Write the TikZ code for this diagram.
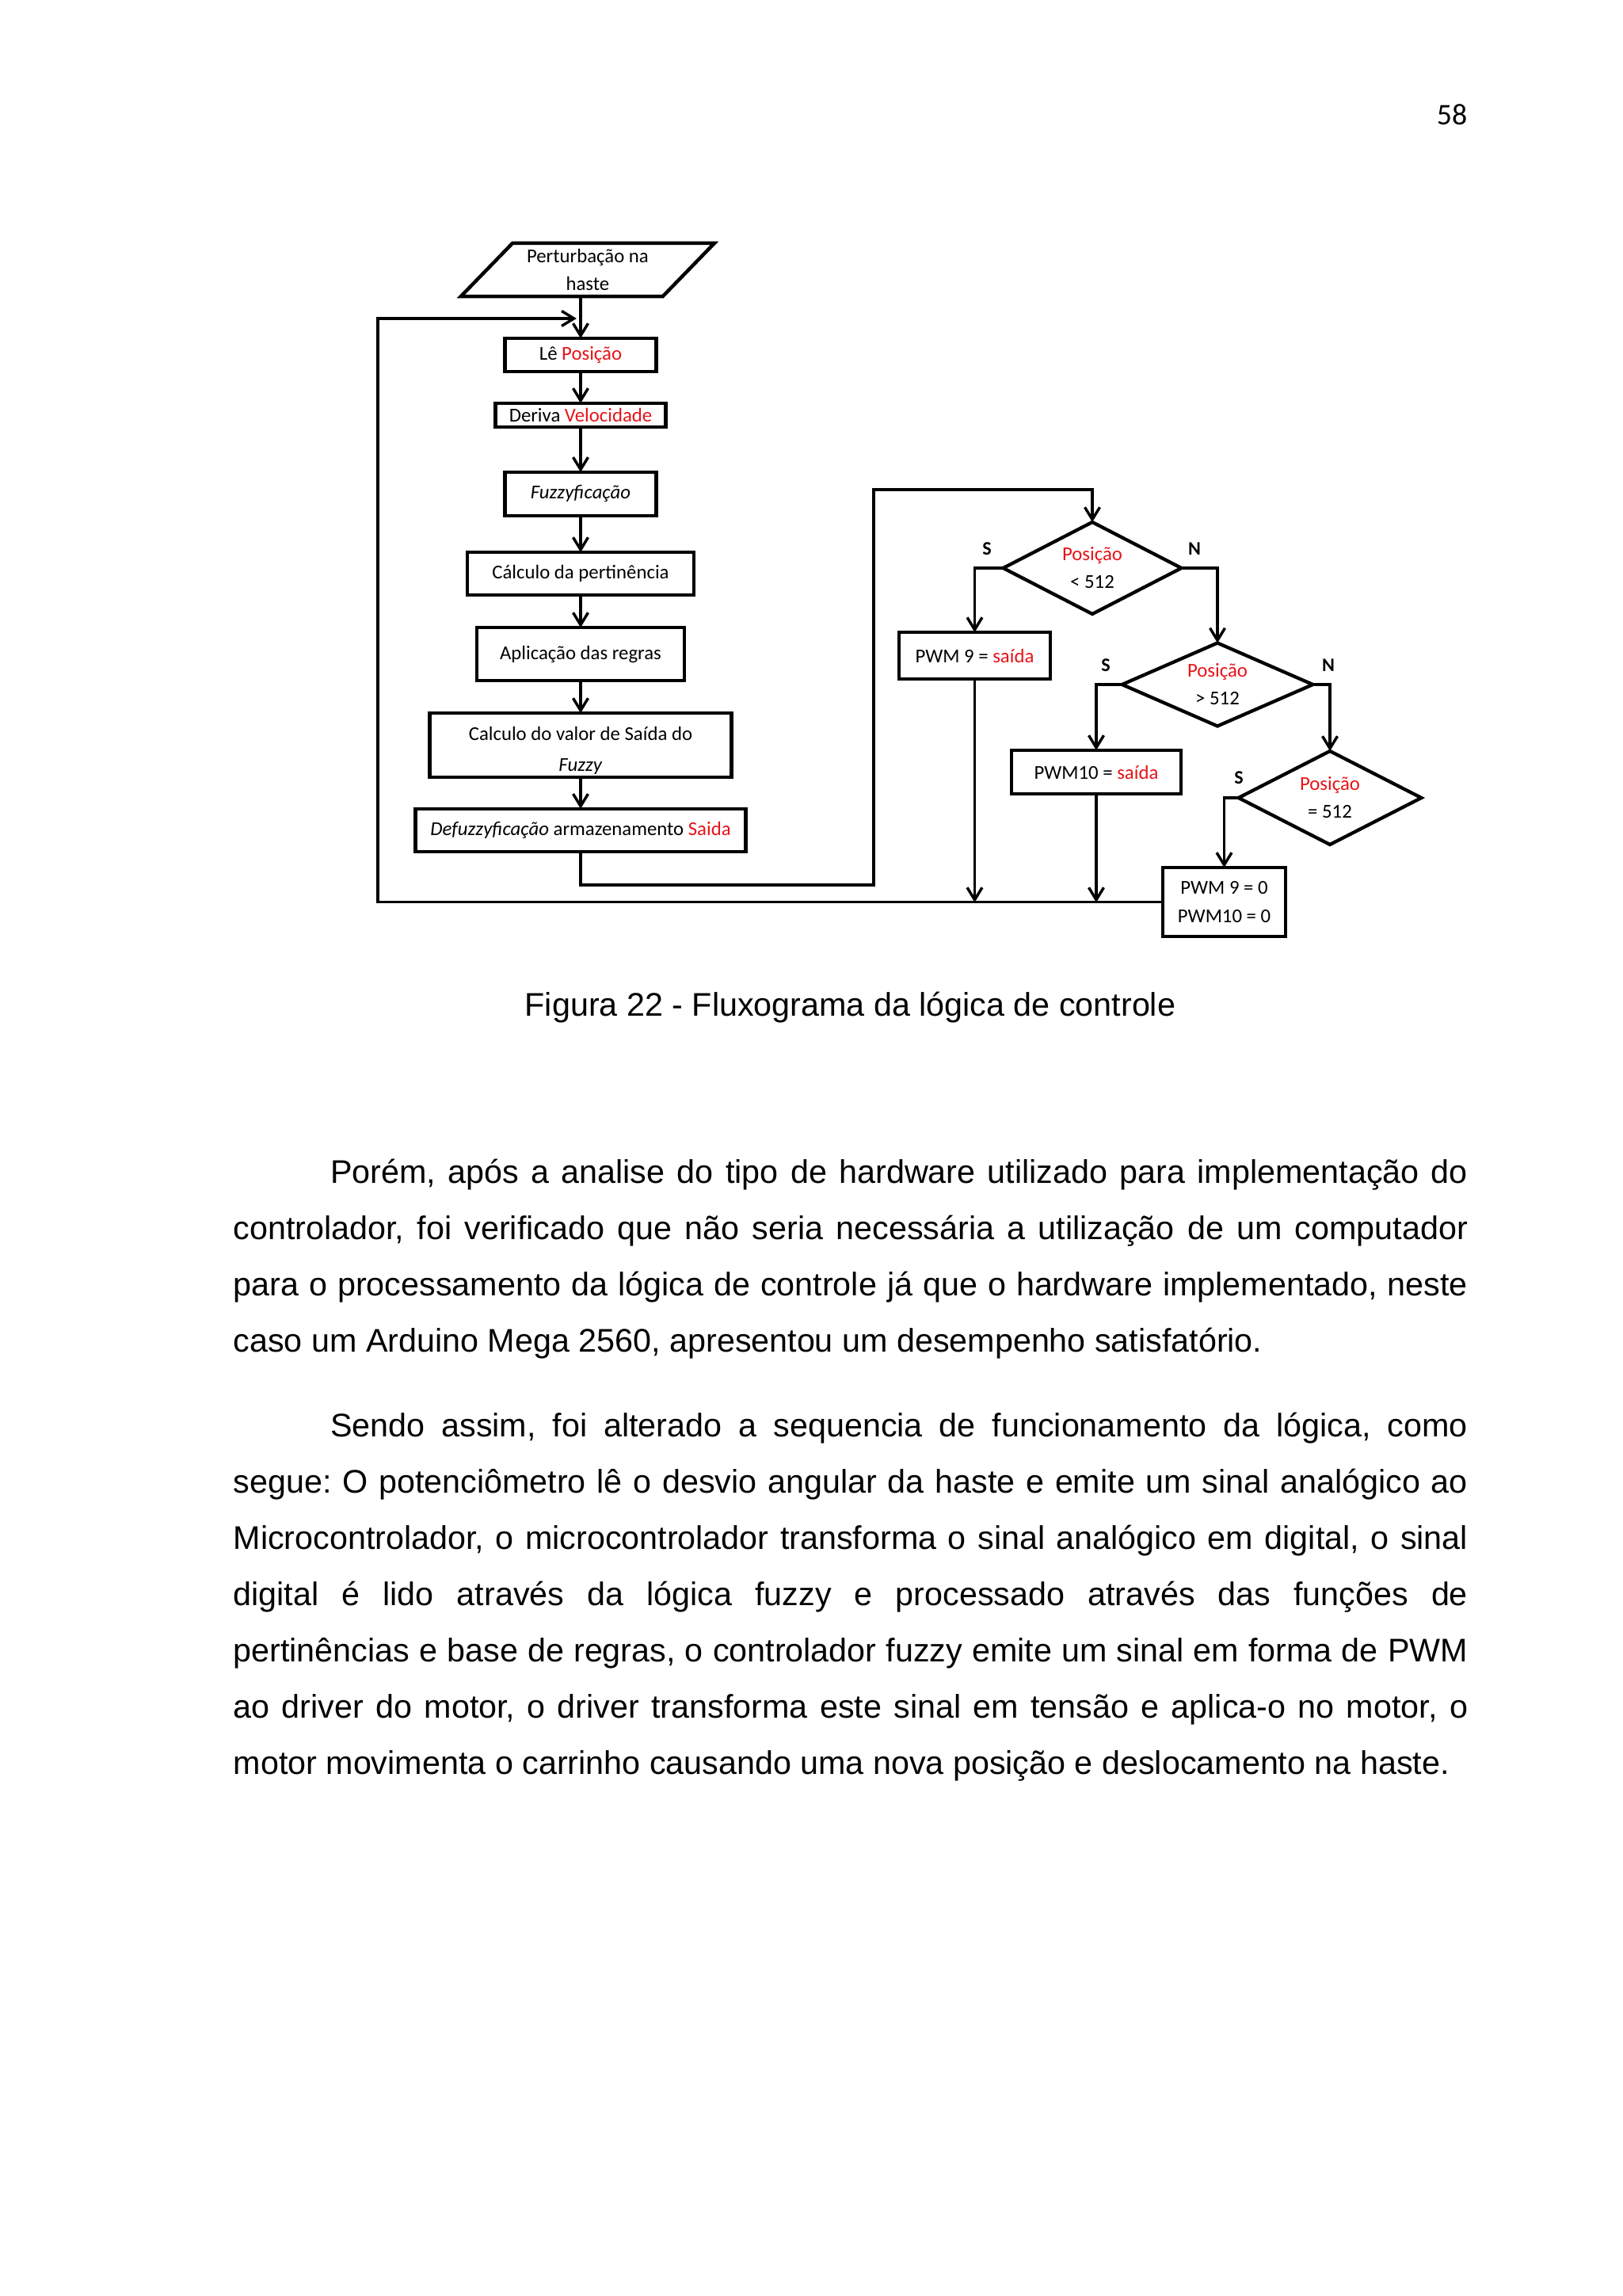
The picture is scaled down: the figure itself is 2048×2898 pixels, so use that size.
\documentclass[tikz,border=0pt]{standalone}
\usepackage{fontspec}
\setmainfont{Liberation Sans}
\newfontfamily\calibri{Carlito}
\usetikzlibrary{arrows.meta,positioning,shapes.geometric}
\definecolor{vermelho}{RGB}{230,20,25}
% paragrafo justificado
\newcommand\paragrafo[1]{\parbox[t]{453pt}{\frenchspacing\hyphenpenalty=10000\relax
  \tolerance=9999\relax\emergencystretch=3em\relax\hspace*{1.25cm}#1}}
\tikzset{
    %Define standard arrow tip
    >={Straight Barb[length=4.5pt,width=5.5pt]},
    %Define style for boxes
    caixa/.style={
           rectangle,
           draw=black, line width=1.3pt,
           inner xsep=1pt, inner ysep=0.5pt,
           outer sep=0pt,
           align=center,
           font=\calibri\fontsize{7.2}{10.2}\selectfont},
    %Define style for decisions
    losango/.style={
           diamond, aspect=2,
           draw=black, line width=1.25pt,
           inner sep=0pt, outer sep=0pt,
           align=center,
           font=\calibri\fontsize{7.2}{10.2}\selectfont},
    %Define style for input
    entrada/.style={
           trapezium, trapezium stretches=true,
           trapezium left angle=46, trapezium right angle=134,
           draw=black, line width=1.3pt,
           inner sep=0.5pt, outer sep=0pt,
           minimum width=93.6pt, minimum height=19.5pt,
           align=center,
           font=\calibri\fontsize{7.2}{10.2}\selectfont},
    % Define arrow style
    seta/.style={
           ->,
           line width=1pt},
    rotulo/.style={
           inner sep=0pt,
           font=\calibri\bfseries\fontsize{7}{8}\selectfont},
    corpo/.style={
           inner sep=0pt, anchor=base west,
           font=\fontsize{12}{20.64}\selectfont}
}

\begin{document}
\begin{tikzpicture}[x=0.29066pt, y=-0.29066pt]
 \useasboundingbox (0,0) rectangle (2048,2898);
 \fill[white] (0,0) rectangle (2048,2898);
 \node[anchor=base east, inner sep=0pt, font=\calibri\fontsize{11}{13}\selectfont] (pagina) at (1853,157) {58};
 % coluna principal
 \node[caixa, minimum width=55.5pt, minimum height=12.2pt] (le) at (733,448) {Lê \textcolor{vermelho}{Posição}};
 \node[entrada, above=15.4pt of le, xshift=2.6pt] (para) {Perturbação na\\haste};
 \node[caixa, below=11.6pt of le, minimum width=62.5pt, minimum height=8.7pt] (deriva) {Deriva \textcolor{vermelho}{Velocidade}};
 \node[caixa, below=16.6pt of deriva, minimum width=55.5pt, minimum height=16pt] (fuzz) {\textit{Fuzzyficação}};
 \node[caixa, below=13.4pt of fuzz, minimum width=83.1pt, minimum height=15.7pt] (pert) {Cálculo da pertinência};
 \node[caixa, below=11.9pt of pert, minimum width=76.2pt, minimum height=19.5pt] (regras) {Aplicação das regras};
 \node[caixa, below=11.9pt of regras, minimum width=110.7pt, minimum height=23.5pt, text height=20.5pt,
       font=\calibri\fontsize{7.2}{11.3}\selectfont] (valor) {Calculo do valor de Saída do\\\textit{Fuzzy}};
 \node[caixa, below=11.6pt of valor, minimum width=121.2pt, minimum height=15.7pt] (defuzz) {\textit{Defuzzyficação} armazenamento \textcolor{vermelho}{Saida}};
 % decisoes
 \node[losango, minimum width=65.4pt, minimum height=33.7pt] (d1) at (1379,717) {\textcolor{vermelho}{Posição}\\< 512};
 \node[losango, minimum width=70pt, minimum height=30.5pt] (d2) at (1537,864) {\textcolor{vermelho}{Posição}\\> 512};
 \node[losango, minimum width=67.1pt, minimum height=34.3pt] (d3) at (1679,1007) {\textcolor{vermelho}{Posição}\\= 512};
 \node[caixa, minimum width=55.5pt, minimum height=17.1pt] (pwm9) at (1230.5,827.5) {PWM 9 = \textcolor{vermelho}{saída}};
 \node[caixa, minimum width=62.2pt, minimum height=16pt] (pwm10) at (1384,974.5) {PWM10 = \textcolor{vermelho}{saída}};
 \node[caixa, minimum width=45.1pt, minimum height=25.3pt] (pwmzero) at (1545.5,1138.5) {PWM 9 = 0\\PWM10 = 0};
 \node[rotulo] (s1) at (1246,693) {S};
 \node[rotulo] (n1) at (1508,693) {N};
 \node[rotulo] (s2) at (1396,840) {S};
 \node[rotulo] (n2) at (1677,840) {N};
 \node[rotulo] (s3) at (1564,982) {S};
 \coordinate (volta) at (1103,1117);
 \coordinate (topo) at (1103,618);
 \coordinate (fundo) at (477,1139);
 \coordinate (retorno) at (477,402);
 % ligacoes
 \draw[seta] (para.south -| le.north) -- (le.north);
 \draw[seta] (le) -- (deriva);
 \draw[seta] (deriva) -- (fuzz);
 \draw[seta] (fuzz) -- (pert);
 \draw[seta] (pert) -- (regras);
 \draw[seta] (regras) -- (valor);
 \draw[seta] (valor) -- (defuzz);
 \draw[seta] (defuzz.south) |- (volta) -- (topo) -| (d1.north);
 \draw[seta] (d1.west) -| (pwm9.north);
 \draw[seta] (d1.east) -| (d2.north);
 \draw[seta] (d2.west) -| (pwm10.north);
 \draw[seta] (d2.east) -| (d3.north);
 \draw[seta] (d3.west) -| (pwmzero.north);
 \draw[seta] (pwm9.south) -- (pwm9.south |- fundo);
 \draw[seta] (pwm10.south) -- (pwm10.south |- fundo);
 \draw[seta, shorten >=1.5pt] (pwmzero.west) -| (retorno) -- (retorno -| le.north);
 % legenda e texto
 \node[anchor=base, inner sep=0pt, font=\fontsize{12}{14}\selectfont] (legenda) at (1073.5,1282) {Figura 22 - Fluxograma da lógica de controle};
 \node[corpo] (par1) at (294,1493) {\paragrafo{Porém, após a analise do tipo de hardware utilizado para implementação do\linebreak
 controlador, foi verificado que não seria necessária a utilização de um computador\linebreak
 para o processamento da lógica de controle já que o hardware implementado, neste\linebreak
 caso um Arduino Mega 2560, apresentou um desempenho satisfatório.}};
 \node[corpo] (par2) at (294,1813) {\paragrafo{Sendo assim, foi alterado a sequencia de funcionamento da lógica, como\linebreak
 segue: O potenciômetro lê o desvio angular da haste e emite um sinal analógico ao\linebreak
 Microcontrolador, o microcontrolador transforma o sinal analógico em digital, o sinal\linebreak
 digital é lido através da lógica fuzzy e processado através das funções de\linebreak
 pertinências e base de regras, o controlador fuzzy emite um sinal em forma de PWM\linebreak
 ao driver do motor, o driver transforma este sinal em tensão e aplica-o no motor, o\linebreak
 motor movimenta o carrinho causando uma nova posição e deslocamento na haste.}};
\end{tikzpicture}
\end{document}
